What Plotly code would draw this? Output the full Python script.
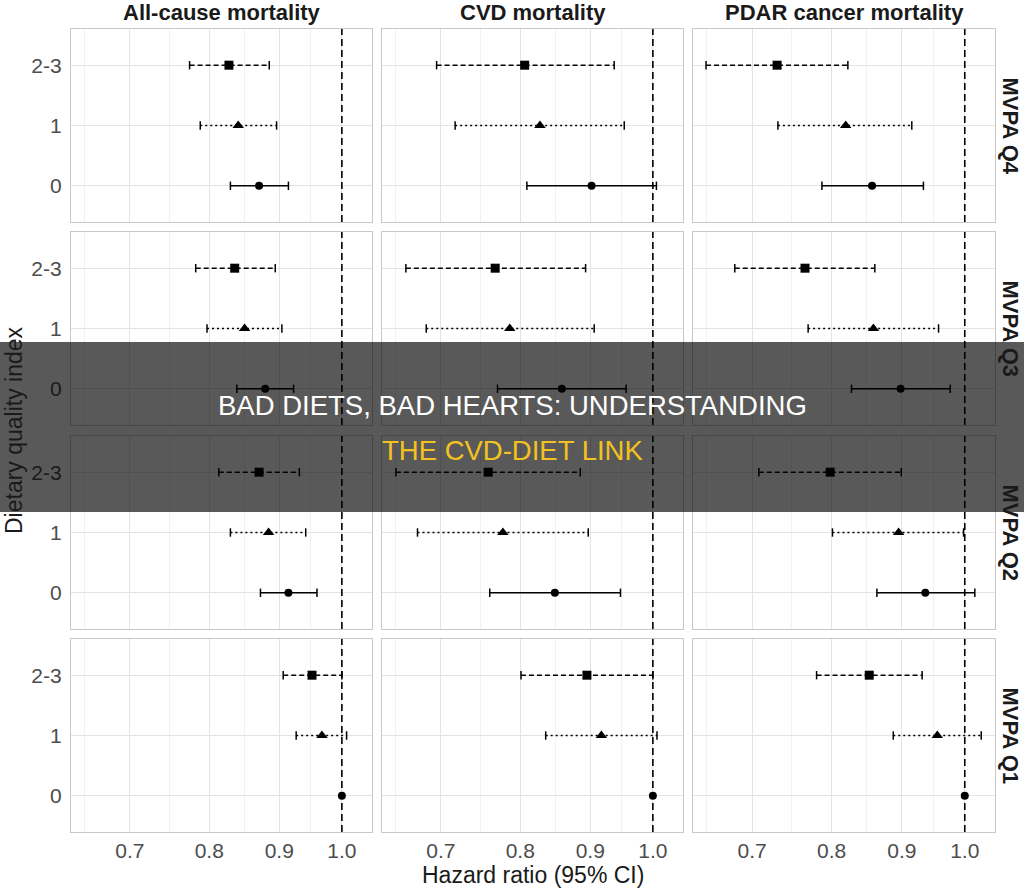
import math
import plotly.graph_objects as go

# ---------------- data ----------------
outcomes = ["All-cause mortality", "CVD mortality", "PDAR cancer mortality"]
mvpa_levels = ["MVPA Q4", "MVPA Q3", "MVPA Q2", "MVPA Q1"]
dqi_levels = ["0", "1", "2-3"]
x_ticks = [0.7, 0.8, 0.9, 1.0]
x_tick_labels = ["0.7", "0.8", "0.9", "1.0"]

# each row = one MVPA level (Q4, Q3, Q2, Q1); values for DQI 0, 1, 2-3
hr_all = [[0.870, 0.840, 0.827], [0.879, 0.849, 0.835], [0.914, 0.884, 0.870], [1.000, 0.967, 0.951]]
lo_all = [[0.829, 0.788, 0.774], [0.838, 0.797, 0.782], [0.872, 0.829, 0.813], [1.000, 0.926, 0.906]]
hi_all = [[0.914, 0.896, 0.885], [0.922, 0.904, 0.894], [0.959, 0.941, 0.931], [1.000, 1.008, 1.000]]

hr_cvd = [[0.902, 0.827, 0.806], [0.858, 0.786, 0.767], [0.848, 0.777, 0.758], [1.000, 0.917, 0.895]]
lo_cvd = [[0.809, 0.717, 0.695], [0.770, 0.683, 0.660], [0.760, 0.673, 0.649], [1.000, 0.835, 0.801]]
hi_cvd = [[1.006, 0.953, 0.937], [0.956, 0.906, 0.893], [0.947, 0.897, 0.885], [1.000, 1.007, 1.000]]

hr_pdar = [[0.856, 0.819, 0.730], [0.898, 0.858, 0.765], [0.936, 0.895, 0.798], [1.000, 0.955, 0.852]]
lo_pdar = [[0.787, 0.731, 0.648], [0.827, 0.769, 0.680], [0.863, 0.801, 0.708], [1.000, 0.887, 0.780]]
hi_pdar = [[0.933, 0.915, 0.822], [0.976, 0.957, 0.860], [1.017, 0.998, 0.899], [1.000, 1.028, 0.931]]

hr_sets = [hr_all, hr_cvd, hr_pdar]
lo_sets = [lo_all, lo_cvd, lo_pdar]
hi_sets = [hi_all, hi_cvd, hi_pdar]

# ---------------- styling ----------------
W, H = 1024, 891
FONT = "Liberation Sans, Arial, sans-serif"
col_px = [(71, 372), (382, 683), (693, 995)]
row_px = [(29, 222), (232, 425), (436, 629), (639, 832)]
dashes = {"0": "solid", "1": "2px,3px", "2-3": "5px,3px"}
symbols = {"0": "circle", "1": "triangle-up", "2-3": "square"}
msize = {"0": 8, "1": 10, "2-3": 9}
minor_vals = [math.sqrt(0.6 * 0.7), math.sqrt(0.7 * 0.8), math.sqrt(0.8 * 0.9), math.sqrt(0.9 * 1.0)]
xr = [math.log10(0.634), math.log10(1.052)]

fig = go.Figure()
layout = dict(
    width=W, height=H, margin=dict(l=0, r=0, t=0, b=0),
    paper_bgcolor="white", plot_bgcolor="white", showlegend=False,
    font=dict(family=FONT, color="#4d4d4d"),
)

annotations = []
n = 0
for r, mv in enumerate(mvpa_levels):
    for c, oc in enumerate(outcomes):
        n += 1
        xa = "x" if n == 1 else f"x{n}"
        ya = "y" if n == 1 else f"y{n}"
        xkey = "xaxis" if n == 1 else f"xaxis{n}"
        ykey = "yaxis" if n == 1 else f"yaxis{n}"
        x0, x1 = col_px[c]
        t0, t1 = row_px[r]
        layout[xkey] = dict(
            domain=[x0 / W, x1 / W], anchor=ya, type="log", range=xr,
            tickmode="array", tickvals=x_ticks, ticktext=x_tick_labels,
            showticklabels=(r == 3), tickfont=dict(size=21, color="#4d4d4d"),
            ticks="",
            showgrid=True, gridcolor="#e4e4e4", gridwidth=1.2,
            minor=dict(tickmode="array", tickvals=minor_vals, showgrid=True,
                       gridcolor="#f1f1f1", gridwidth=0.8, ticks=""),
            showline=True, mirror=True, linecolor="#c8c8c8", linewidth=1.2,
            zeroline=False, fixedrange=True,
        )
        layout[ykey] = dict(
            domain=[1 - t1 / H, 1 - t0 / H], anchor=xa, range=[-0.6, 2.6],
            tickmode="array", tickvals=list(range(len(dqi_levels))), ticktext=dqi_levels,
            showticklabels=(c == 0), tickfont=dict(size=21, color="#4d4d4d"),
            ticks="outside", ticklen=4, tickcolor="rgba(0,0,0,0)",
            showgrid=True, gridcolor="#e4e4e4", gridwidth=1.2,
            showline=True, mirror=True, linecolor="#c8c8c8", linewidth=1.2,
            zeroline=False, fixedrange=True,
        )
        # reference line at HR = 1
        fig.add_trace(go.Scatter(
            x=[1.0, 1.0], y=[-0.6, 2.6], mode="lines", xaxis=xa, yaxis=ya,
            line=dict(color="black", width=1.6, dash="7px,4px"), hoverinfo="skip"))
        for k, d in enumerate(dqi_levels):
            hr = hr_sets[c][r][k]
            lo = lo_sets[c][r][k]
            hi = hi_sets[c][r][k]
            if hi > lo:
                fig.add_trace(go.Scatter(
                    x=[lo, hi], y=[k, k], mode="lines+markers", xaxis=xa, yaxis=ya,
                    line=dict(color="black", width=1.5, dash=dashes[d]),
                    marker=dict(symbol="line-ns", size=6, color="black",
                                line=dict(width=1.5, color="black")),
                    hoverinfo="skip"))
            fig.add_trace(go.Scatter(
                x=[hr], y=[k], mode="markers", xaxis=xa, yaxis=ya,
                marker=dict(symbol=symbols[d], size=msize[d], color="black",
                            line=dict(width=0)),
                name=f"{oc} {mv} {d}"))

# column strip titles
for c, oc in enumerate(outcomes):
    x0, x1 = col_px[c]
    annotations.append(dict(
        text=f"<b>{oc}</b>", x=(x0 + x1) / 2 / W, y=1 - 12.5 / H, xref="paper", yref="paper",
        showarrow=False, xanchor="center", yanchor="middle",
        font=dict(family=FONT, size=22, color="#1a1a1a")))
# row strip titles
for r, mv in enumerate(mvpa_levels):
    t0, t1 = row_px[r]
    annotations.append(dict(
        text=f"<b>{mv}</b>", x=1010 / W, y=1 - (t0 + t1) / 2 / H, xref="paper", yref="paper",
        showarrow=False, xanchor="center", yanchor="middle", textangle=90,
        font=dict(family=FONT, size=22, color="#1a1a1a")))
# axis titles
annotations.append(dict(
    text="Hazard ratio (95% CI)", x=533 / W, y=1 - 875 / H, xref="paper", yref="paper",
    showarrow=False, xanchor="center", yanchor="middle",
    font=dict(family=FONT, size=23, color="#1a1a1a")))
annotations.append(dict(
    text="Dietary quality index", x=14 / W, y=1 - 430 / H, xref="paper", yref="paper",
    showarrow=False, xanchor="center", yanchor="middle", textangle=-90,
    font=dict(family=FONT, size=23, color="#1a1a1a")))

# overlay banner
shapes = [dict(
    type="rect", xref="paper", yref="paper", x0=0, x1=1,
    y0=1 - 512 / H, y1=1 - 342 / H, fillcolor="rgba(0,0,0,0.65)",
    line=dict(width=0), layer="above")]
annotations.append(dict(
    text="BAD DIETS, BAD HEARTS: UNDERSTANDING", x=0.5, y=1 - 405 / H,
    xref="paper", yref="paper", showarrow=False, xanchor="center", yanchor="middle",
    font=dict(family=FONT, size=27.5, color="white")))
annotations.append(dict(
    text="THE CVD-DIET LINK", x=0.5, y=1 - 450 / H,
    xref="paper", yref="paper", showarrow=False, xanchor="center", yanchor="middle",
    font=dict(family=FONT, size=27.5, color="#f4c21f")))

layout["annotations"] = annotations
layout["shapes"] = shapes
fig.update_layout(**layout)
fig.write_html("out.html")
